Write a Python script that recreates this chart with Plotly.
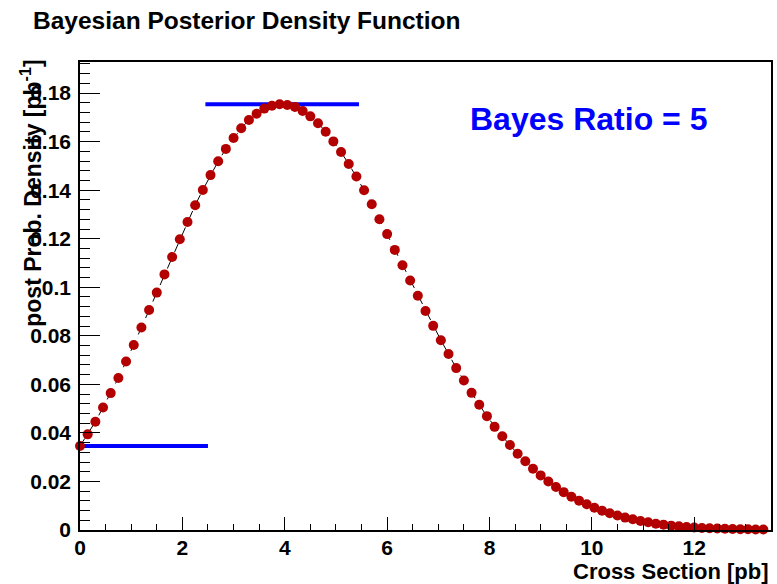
import plotly.graph_objects as go

cross_section = [
    0.0, 0.15, 0.3, 0.45, 0.6, 0.75, 0.9, 1.05, 1.2, 1.35,
    1.5, 1.65, 1.8, 1.95, 2.1, 2.25, 2.4, 2.55, 2.7, 2.85,
    3.0, 3.15, 3.3, 3.45, 3.6, 3.75, 3.9, 4.05, 4.2, 4.35,
    4.5, 4.65, 4.8, 4.95, 5.1, 5.25, 5.4, 5.55, 5.7, 5.85,
    6.0, 6.15, 6.3, 6.45, 6.6, 6.75, 6.9, 7.05, 7.2, 7.35,
    7.5, 7.65, 7.8, 7.95, 8.1, 8.25, 8.4, 8.55, 8.7, 8.85,
    9.0, 9.15, 9.3, 9.45, 9.6, 9.75, 9.9, 10.05, 10.2, 10.35,
    10.5, 10.65, 10.8, 10.95, 11.1, 11.25, 11.4, 11.55, 11.7, 11.85,
    12.0, 12.15, 12.3, 12.45, 12.6, 12.75, 12.9, 13.05, 13.2, 13.35,
]
post_density = [
    0.0346, 0.0394, 0.0446, 0.0505, 0.0564, 0.0626, 0.0694, 0.0762, 0.0834, 0.0906,
    0.0978, 0.1053, 0.1125, 0.1198, 0.1269, 0.1338, 0.1401, 0.1462, 0.1519, 0.1570,
    0.1615, 0.1655, 0.1689, 0.1715, 0.1736, 0.1748, 0.1754, 0.1751, 0.1743, 0.1726,
    0.1704, 0.1676, 0.1641, 0.1601, 0.1557, 0.1508, 0.1456, 0.1400, 0.1342, 0.1280,
    0.1219, 0.1154, 0.1091, 0.1028, 0.0965, 0.0902, 0.0841, 0.0782, 0.0725, 0.0667,
    0.0616, 0.0565, 0.0516, 0.0469, 0.0425, 0.0386, 0.0350, 0.0314, 0.0283, 0.0252,
    0.0225, 0.0200, 0.0177, 0.0156, 0.0137, 0.0121, 0.0106, 0.0092, 0.0079, 0.0069,
    0.0060, 0.0051, 0.0044, 0.0037, 0.0032, 0.0026, 0.0022, 0.0018, 0.0015, 0.0012,
    0.0010, 0.0008, 0.0007, 0.0006, 0.0005, 0.0004, 0.0003, 0.0003, 0.0002, 0.0002,
]

# blue markers: density at zero and at the maximum
zero_line_x = [0.0, 2.5]
zero_line_y = [0.0346, 0.0346]
peak_line_x = [2.45, 5.45]
peak_line_y = [0.1754, 0.1754]

bayes_ratio = 5

y_tickvals = [0, 0.02, 0.04, 0.06, 0.08, 0.1, 0.12, 0.14, 0.16, 0.18]
y_ticktext = ["0", "0.02", "0.04", "0.06", "0.08", "0.1", "0.12", "0.14", "0.16", "0.18"]

FONT = "Liberation Sans, Arial, Helvetica, sans-serif"

fig = go.Figure()
fig.add_trace(go.Scatter(x=zero_line_x, y=zero_line_y, mode="lines",
                         line=dict(color="#0000ff", width=4), hoverinfo="skip"))
fig.add_trace(go.Scatter(x=peak_line_x, y=peak_line_y, mode="lines",
                         line=dict(color="#0000ff", width=4), hoverinfo="skip"))
fig.add_trace(go.Scatter(x=cross_section, y=post_density, mode="lines+markers",
                         line=dict(color="black", width=1, dash="dash"),
                         marker=dict(color="#b30000", size=10, line=dict(width=0)),
                         cliponaxis=False))

fig.add_annotation(text=f"Bayes Ratio = {bayes_ratio}", xref="paper", yref="paper",
                   x=0.561, y=0.878, xanchor="left", yanchor="middle", showarrow=False,
                   font=dict(family=FONT, size=32, color="#0000ff", weight="bold"))
fig.add_annotation(text="post Prob. Density [pb<sup>-1</sup>]", xref="paper", yref="paper",
                   x=-0.071, y=1.01, xanchor="center", yanchor="top", textangle=-90,
                   showarrow=False, font=dict(family=FONT, size=23, color="black", weight="bold"))
fig.add_annotation(text="Cross Section [pb]", xref="paper", yref="paper",
                   x=1.0, y=-0.088, xanchor="right", yanchor="middle", showarrow=False,
                   font=dict(family=FONT, size=22, color="black", weight="bold"))

fig.update_layout(
    width=777, height=584,
    margin=dict(l=80, r=4, t=62, b=54),
    paper_bgcolor="white", plot_bgcolor="white",
    showlegend=False,
    title=dict(text="<b>Bayesian Posterior Density Function</b>", xref="container", yref="container",
               x=33 / 777, xanchor="left", y=1 - 20 / 584, yanchor="middle",
               font=dict(family=FONT, size=24.5, color="black")),
)
fig.update_xaxes(range=[0, 13.5], showgrid=False, zeroline=False,
                 showline=True, linecolor="black", linewidth=2, mirror=True,
                 ticks="inside", ticklen=13, tickwidth=1, tickcolor="black", dtick=2, tick0=0,
                 ticklabelstandoff=-2,
                 minor=dict(ticks="inside", ticklen=6, dtick=0.5, tickcolor="black", showgrid=False),
                 tickfont=dict(family=FONT, size=21, color="black", weight="bold"))
fig.update_yaxes(range=[0, 0.1928], showgrid=False, zeroline=False,
                 showline=True, linecolor="black", linewidth=1.5, mirror=True,
                 ticks="inside", ticklen=20, tickwidth=1, tickcolor="black",
                 tickvals=y_tickvals, ticktext=y_ticktext, ticklabelstandoff=3,
                 minor=dict(ticks="inside", ticklen=10, dtick=0.004, tickcolor="black", showgrid=False),
                 tickfont=dict(family=FONT, size=21, color="black", weight="bold"))

fig.write_html("out.html", config={"displayModeBar": False},
               post_script="document.body.style.margin='0px';")
